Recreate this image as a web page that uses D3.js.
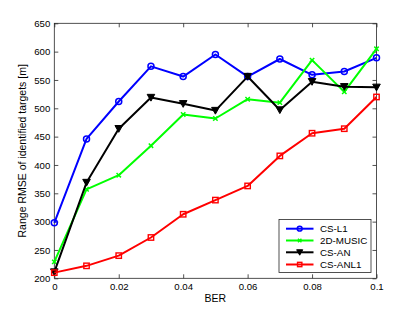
<!DOCTYPE html>
<html><head><meta charset="utf-8">
<script src="https://cdn.jsdelivr.net/npm/d3@7"></script>
<style>body{margin:0;background:#fff}svg{display:block}text{font-family:"Liberation Sans",Arial,sans-serif;fill:#000}</style>
</head><body><svg id="c" width="415" height="312"></svg>
<script>
const berValues = [0,0.01,0.02,0.03,0.04,0.05,0.06,0.07,0.08,0.09,0.1];
const csL1    = [298,446,512,574,556,595,556,587,559,565,589];
const music2D = [229,357,382,434,489,482,516,510,585,529,605];
const csAN    = [211,369,464,519,508,496,556,497,547,538,537];
const csANL1  = [210,222,240,272,313,338,363,416,456,464,520];
const seriesNames = ["CS-L1","2D-MUSIC","CS-AN","CS-ANL1"];
const seriesColors = ["#0000ff","#00ff00","#000000","#ff0000"];
const seriesMarkers = ["circle","x","triangle","square"];
const xTicks = [0,0.02,0.04,0.06,0.08,0.1];
const yTicks = [200,250,300,350,400,450,500,550,600,650];

const series = [csL1,music2D,csAN,csANL1].map((v,i)=>({name:seriesNames[i],color:seriesColors[i],marker:seriesMarkers[i],values:v}));

const svg = d3.select("#c");
const L=54.3,R=376.5,T=23.3,B=278.3;
const x = d3.scaleLinear().domain([0,0.1]).range([L,R]);
const y = d3.scaleLinear().domain([200,650]).range([B,T]);
const fs = "9.6px";

svg.append("defs").append("clipPath").attr("id","clip").append("rect").attr("x",L-6).attr("y",T-6).attr("width",R-L+12).attr("height",B-T+12);

const fmtX = d=> d===0?"0":(d===0.1?"0.1":d3.format(".2f")(d));
const gx = svg.append("g").attr("transform",`translate(0,${B})`).call(d3.axisBottom(x).tickValues(xTicks).tickFormat(fmtX).tickSizeInner(-4).tickSizeOuter(0).tickPadding(5));
const gxt = svg.append("g").attr("transform",`translate(0,${T})`).call(d3.axisTop(x).tickValues(xTicks).tickFormat("").tickSizeInner(-4).tickSizeOuter(0));
const gy = svg.append("g").attr("transform",`translate(${L},0)`).call(d3.axisLeft(y).tickValues(yTicks).tickSizeInner(-4).tickSizeOuter(0).tickPadding(4));
const gyr = svg.append("g").attr("transform",`translate(${R},0)`).call(d3.axisRight(y).tickValues(yTicks).tickFormat("").tickSizeInner(-4).tickSizeOuter(0));
[gx,gxt,gy,gyr].forEach(g=>{g.select(".domain").remove();g.selectAll("line").attr("stroke","#262626").attr("stroke-width",0.8);g.selectAll("text").style("font-size",fs).attr("fill","#000").style("font-family","'Liberation Sans',Arial,sans-serif");});
svg.append("rect").attr("x",L).attr("y",T).attr("width",R-L).attr("height",B-T).attr("fill","none").attr("stroke","#262626").attr("stroke-width",0.8);

svg.append("text").attr("x",(L+R)/2).attr("y",302).attr("text-anchor","middle").style("font-size","10.5px").text("BER");
svg.append("text").attr("transform",`translate(26,${(T+B)/2}) rotate(-90)`).attr("text-anchor","middle").style("font-size","10.5px").text("Range RMSE of identified targets [m]");

function drawMarker(g,type,cx,cy,color,k){
  if(type==="circle") g.append("circle").attr("cx",cx).attr("cy",cy).attr("r",3*k).attr("fill","none").attr("stroke",color).attr("stroke-width",1.5);
  else if(type==="square") g.append("rect").attr("x",cx-2.7*k).attr("y",cy-2.7*k).attr("width",5.4*k).attr("height",5.4*k).attr("fill","none").attr("stroke",color).attr("stroke-width",1.4);
  else if(type==="triangle") g.append("path").attr("d",`M${cx-3.8*k},${cy-3.2*k}L${cx+3.8*k},${cy-3.2*k}L${cx},${cy+3.6*k}Z`).attr("fill",color).attr("stroke",color).attr("stroke-width",1);
  else if(type==="x") g.append("path").attr("d",`M${cx-2.2*k},${cy-2.2*k}L${cx+2.2*k},${cy+2.2*k}M${cx-2.2*k},${cy+2.2*k}L${cx+2.2*k},${cy-2.2*k}`).attr("stroke",color).attr("stroke-width",1.5);
}

const line = d3.line().x((d,i)=>x(berValues[i])).y(d=>y(d));
const plot = svg.append("g").attr("clip-path","url(#clip)");
series.forEach(s=>{
  plot.append("path").attr("d",line(s.values)).attr("fill","none").attr("stroke",s.color).attr("stroke-width",2).attr("stroke-linejoin","round");
  const mg = plot.append("g");
  s.values.forEach((v,i)=>drawMarker(mg,s.marker,x(berValues[i]),y(v),s.color,1));
});

const lg = svg.append("g");
lg.append("rect").attr("x",279).attr("y",219.5).attr("width",92).attr("height",53).attr("fill","#fff").attr("stroke","#262626").attr("stroke-width",0.8);
const rowY = [228.7,240.5,252.3,264.5];
series.forEach((s,i)=>{
  lg.append("line").attr("x1",286).attr("x2",313.5).attr("y1",rowY[i]).attr("y2",rowY[i]).attr("stroke",s.color).attr("stroke-width",2);
  drawMarker(lg,s.marker,299.7,rowY[i],s.color,0.8);
  lg.append("text").attr("x",320).attr("y",rowY[i]).attr("dy","0.35em").style("font-size","9.8px").text(s.name);
});
</script></body></html>
